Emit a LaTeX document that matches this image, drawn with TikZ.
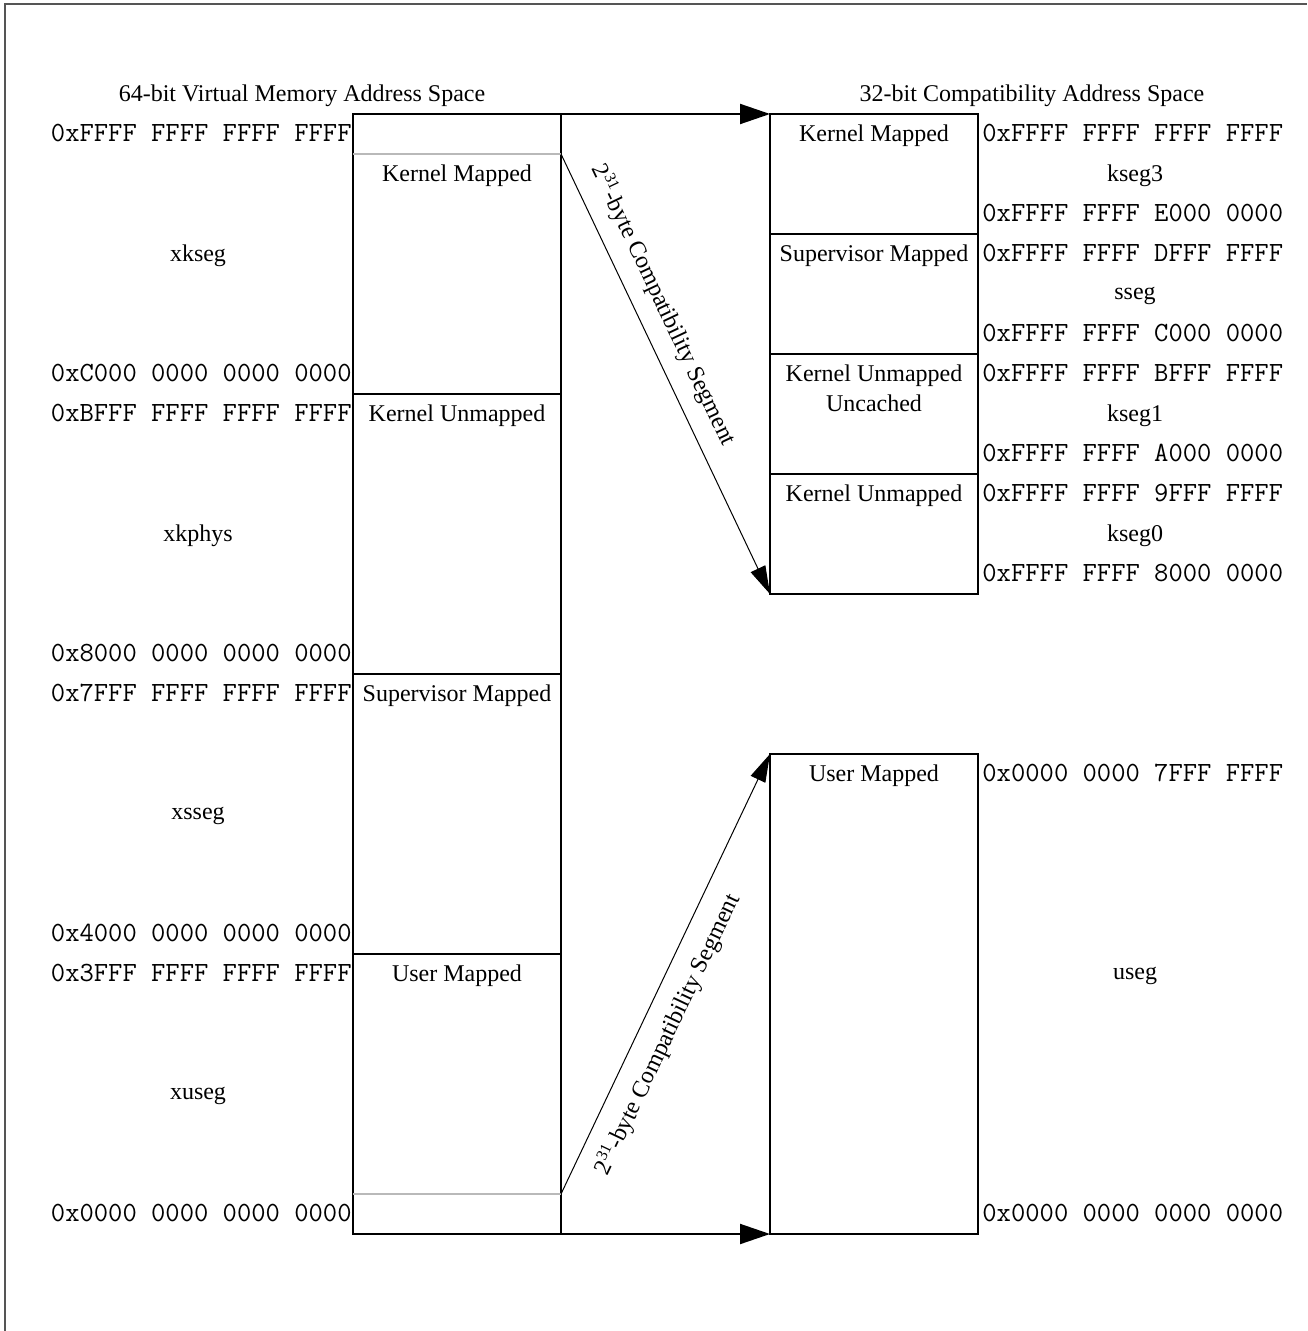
\documentclass[tikz,border=0pt]{standalone}
\usepackage{fontspec}
\setmainfont{Liberation Serif}
\usetikzlibrary{positioning, arrows.meta}
\definecolor{cutgray}{RGB}{185, 185, 185}
\definecolor{framegray}{RGB}{85, 85, 85}

\tikzset{
  region/.style={draw, line width=1pt, minimum width=104pt, inner sep=0pt, outer sep=0pt},
  tag/.style={font=\fontsize{12}{15}\selectfont, align=center, inner sep=0pt},
  addr/.style={font=\ttfamily\fontsize{13.9}{16}\selectfont, inner sep=1pt},
  jump/.style={-{Triangle[length=15pt, width=10pt]}, line width=1pt},
  compat/.style={-{Triangle[length=14pt, width=8pt]}, line width=0.5pt},
  cut/.style={draw=cutgray, line width=1pt}
}

\begin{document}
\begin{tikzpicture}[x=0.5pt, y=-0.5pt]
    \useasboundingbox (0,0) rectangle (1307,1331);
    % cadre
    \draw[framegray, line width=1pt] (5,1331) -- (5,4) -- (1307,4);

    % titres
    \node[tag] (t64) at (302,96) {64-bit Virtual Memory Address Space};
    \node[tag] (t32) at (1032,96) {32-bit Compatibility Address Space};

    % espace 64 bits
    \node[region, minimum height=140pt] (xkR) at (457,254) {};
    \node[region, minimum height=140pt] (xpR) at (457,534) {};
    \node[region, minimum height=140pt] (xsR) at (457,814) {};
    \node[region, minimum height=140pt] (xuR) at (457,1094) {};
    \coordinate (kcutL) at (353,154);
    \coordinate (kcutR) at (561,154);
    \coordinate (ucutL) at (353,1194);
    \coordinate (ucutR) at (561,1194);
    \draw[cut] (kcutL) -- (kcutR);
    \draw[cut] (ucutL) -- (ucutR);
    \node[tag, anchor=north] (xkT) at (457,164) {Kernel Mapped};
    \node[tag, below=5pt of xpR.north] (xpT) {Kernel Unmapped};
    \node[tag, below=5pt of xsR.north] (xsT) {Supervisor Mapped};
    \node[tag, below=5pt of xuR.north] (xuT) {User Mapped};

    % espace 32 bits
    \node[region, minimum height=60pt] (ksR) at (874,174) {};
    \node[region, minimum height=60pt] (ssR) at (874,294) {};
    \node[region, minimum height=60pt] (k1R) at (874,414) {};
    \node[region, minimum height=60pt] (k0R) at (874,534) {};
    \node[region, minimum height=240pt] (usR) at (874,994) {};
    \node[tag, below=5pt of ksR.north] (ksT) {Kernel Mapped};
    \node[tag, below=5pt of ssR.north] (ssT) {Supervisor Mapped};
    \node[tag, below=5pt of k1R.north] (k1T) {Kernel Unmapped\\Uncached};
    \node[tag, below=5pt of k0R.north] (k0T) {Kernel Unmapped};
    \node[tag, below=5pt of usR.north] (usT) {User Mapped};

    % adresses
    \foreach \y/\a [count=\i] in {133/0xFFFF FFFF FFFF FFFF, 373/0xC000 0000 0000 0000,
        413/0xBFFF FFFF FFFF FFFF, 653/0x8000 0000 0000 0000, 693/0x7FFF FFFF FFFF FFFF,
        933/0x4000 0000 0000 0000, 973/0x3FFF FFFF FFFF FFFF, 1213/0x0000 0000 0000 0000}
        \node[addr, anchor=east] (la\i) at (354,\y) {\a};
    \foreach \y/\a [count=\i] in {133/0xFFFF FFFF FFFF FFFF, 213/0xFFFF FFFF E000 0000,
        253/0xFFFF FFFF DFFF FFFF, 333/0xFFFF FFFF C000 0000, 373/0xFFFF FFFF BFFF FFFF,
        453/0xFFFF FFFF A000 0000, 493/0xFFFF FFFF 9FFF FFFF, 573/0xFFFF FFFF 8000 0000,
        773/0x0000 0000 7FFF FFFF, 1213/0x0000 0000 0000 0000}
        \node[addr, anchor=west] (ra\i) at (980,\y) {\a};

    % noms des segments
    \foreach \y/\s in {256/xkseg, 536/xkphys, 816/xsseg, 1096/xuseg}
        \node[tag] (\s) at (198,\y) {\s};
    \foreach \y/\s in {176/kseg3, 296/sseg, 416/kseg1, 536/kseg0, 976/useg}
        \node[tag] (\s) at (1135,\y) {\s};

    % flèches
    \draw[jump] (xkR.north east) -- (ksR.north west);
    \draw[jump] (xuR.south east) -- (usR.south west);
    \draw[compat] (kcutR) -- node[tag, sloped, above=7.5pt, pos=0.37] (c1) {2\textsuperscript{31}-byte Compatibility Segment} (k0R.south west);
    \draw[compat] (ucutR) -- node[tag, sloped, below=7.5pt, pos=0.39] (c2) {2\textsuperscript{31}-byte Compatibility Segment} (usR.north west);
\end{tikzpicture}
\end{document}
